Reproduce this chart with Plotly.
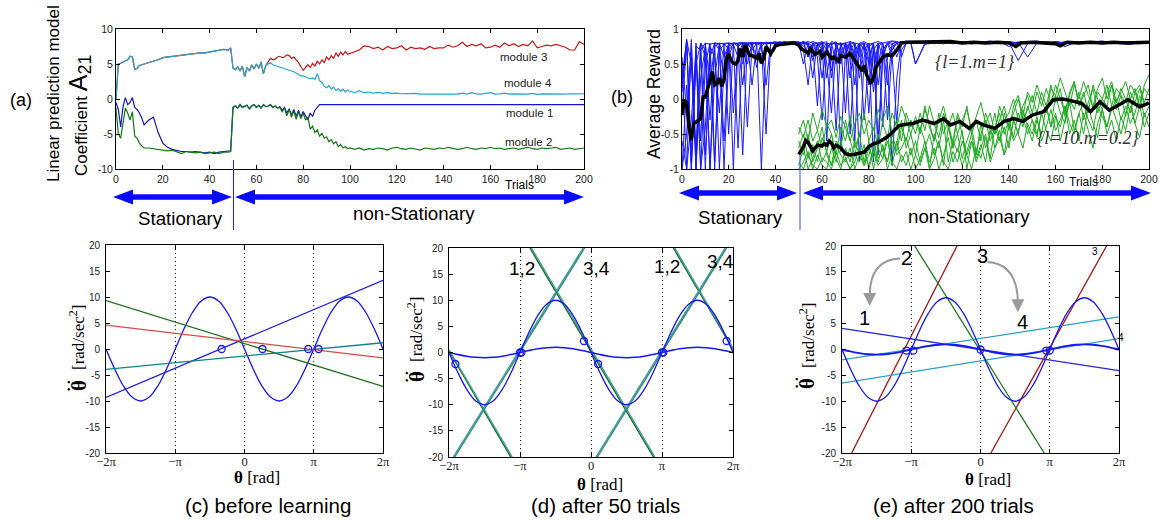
import plotly.graph_objects as go

W, H = 1167, 520
SANS = "Liberation Sans, Arial, sans-serif"
SERIF = "Liberation Serif, Times New Roman, serif"


def px(x):
    return x / W


def py(y):
    return 1 - y / H


# ---------------- panel (a): linear prediction coefficient A21 ----------------
trials_a = list(range(0, 12)) + list(range(12, 48, 2)) + list(range(48, 100)) + list(range(100, 201, 2))

module1 = ([-0.5, -1.5, -4.0, -1.1, 0.2, -0.8, -0.5, 0.2, -1.2, -1.5, -2.0, -2.7]
           + [-3.7, -3.0, -2.6, -4.8, -6.3, -6.9, -7.2, -7.4, -7.5, -7.5, -7.6, -7.5, -7.6, -7.7, -7.6, -7.8, -7.6, -7.5]
           + [-7.5, -7.4, -1.2, -1.0, -1.3, -0.8, -1.2, -1.0, -0.9, -1.4,
              -1.0, -0.8, -1.2, -0.9, -1.3, -0.8, -1.1, -1.0, -0.8, -1.2,
              -1.0, -1.3, -1.1, -1.6, -1.2, -2.0, -1.4, -2.3, -1.5, -2.5,
              -1.6, -2.6, -1.8, -2.4, -3.0, -2.0, -2.5, -1.6, -1.2, -0.8,
              -0.8, -0.78, -0.8, -0.8, -0.79, -0.8, -0.8, -0.78, -0.8, -0.8,
              -0.8, -0.79]
           + [-0.8, -0.78, -0.8, -0.8, -0.79, -0.8, -0.8, -0.78, -0.8, -0.8,
              -0.79, -0.8, -0.8, -0.78, -0.8, -0.8, -0.8, -0.79, -0.8, -0.78,
              -0.8, -0.8, -0.79, -0.8, -0.8, -0.78, -0.8, -0.8, -0.79, -0.8,
              -0.8, -0.78, -0.8, -0.8, -0.8, -0.79, -0.8, -0.8, -0.8, -0.8,
              -0.9, -0.8, -0.8, -0.79, -0.8, -0.8, -0.78, -0.8, -0.8, -0.79,
              -0.8])

module2 = ([-1.3, -5.0, -5.6, -3.5, -1.3, -2.0, -3.0, -1.8, -5.3, -5.6, -6.3, -6.7]
           + [-7.0, -7.0, -7.1, -7.3, -7.3, -7.4, -7.3, -7.5, -7.8, -7.5, -7.6, -7.7, -7.6, -7.8, -7.7, -7.6, -7.8, -7.6]
           + [-7.6, -7.5, -1.2, -1.0, -1.3, -0.8, -1.2, -1.0, -0.9, -1.4,
              -1.0, -0.8, -1.2, -0.9, -1.3, -0.8, -1.1, -1.0, -0.8, -1.2,
              -1.0, -1.3, -1.2, -1.8, -1.3, -2.4, -1.5, -2.6, -1.7, -2.9,
              -1.8, -2.8, -2.0, -3.0, -2.6, -4.3, -3.9, -4.8, -4.4, -5.3,
              -4.9, -5.6, -5.4, -6.1, -5.8, -6.4, -6.1, -6.8, -6.5, -7.0,
              -6.8, -7.1]
           + [-7.0, -7.2, -7.0, -7.3, -7.1, -7.2, -7.0, -7.1, -7.3, -7.0,
              -6.9, -7.1, -7.2, -7.0, -7.1, -7.3, -7.0, -7.1, -7.2, -7.0,
              -7.1, -6.9, -7.0, -7.2, -7.1, -6.9, -7.1, -7.2, -7.0, -7.1,
              -6.9, -7.1, -7.0, -7.2, -7.1, -7.0, -7.2, -7.1, -6.9, -7.1,
              -7.2, -7.0, -7.1, -7.0, -6.9, -7.2, -7.1, -7.0, -7.2, -7.1,
              -7.0])

module3 = ([0.0, 5.0, 5.1, 5.3, 5.4, 5.6, 6.1, 6.0, 4.2, 4.4, 4.8, 4.9]
           + [4.9, 5.2, 5.4, 5.6, 5.9, 6.0, 6.1, 6.2, 6.2, 6.4, 6.4, 6.5, 6.6, 6.6, 6.7, 6.9, 6.9, 7.1]
           + [7.0, 7.3, 4.4, 4.2, 4.6, 4.0, 4.7, 3.2, 4.5, 4.0,
              4.9, 4.3, 5.0, 4.4, 5.3, 3.6, 4.8, 5.3, 5.8, 5.6,
              5.7, 6.0, 6.1, 5.9, 6.0, 6.3, 6.2, 5.8, 6.0, 5.6,
              5.2, 4.6, 4.1, 4.5, 4.9, 4.5, 5.1, 4.7, 5.4, 5.0,
              5.6, 5.2, 6.0, 5.6, 6.2, 5.8, 6.6, 6.1, 6.7, 6.3,
              6.8, 6.4]
           + [6.5, 6.8, 7.0, 7.6, 7.5, 7.2, 7.4, 7.0, 7.5, 7.2,
              7.3, 7.6, 7.0, 7.4, 7.2, 7.3, 7.1, 7.5, 7.2, 7.3,
              7.3, 7.7, 7.4, 7.6, 8.1, 7.5, 7.8, 7.6, 7.9, 7.3,
              7.4, 7.7, 7.4, 8.0, 7.6, 7.9, 7.5, 7.8, 7.6, 8.3,
              7.3, 7.5, 7.7, 7.6, 7.8, 7.6, 7.4, 7.0, 7.0, 8.2,
              7.8])

module4 = ([0.0, 5.0, 5.1, 5.3, 5.4, 5.6, 6.1, 6.0, 4.2, 4.4, 4.8, 4.9]
           + [4.9, 5.2, 5.4, 5.6, 5.9, 6.0, 6.1, 6.2, 6.2, 6.4, 6.4, 6.5, 6.6, 6.6, 6.7, 6.9, 6.9, 7.1]
           + [7.0, 7.3, 4.4, 4.2, 4.6, 4.0, 4.7, 3.2, 4.5, 4.0,
              4.9, 4.3, 5.0, 4.4, 5.3, 3.6, 4.8, 5.0, 5.2, 4.9,
              4.8, 4.7, 4.6, 4.5, 4.4, 4.3, 4.1, 4.0, 3.9, 3.7,
              3.5, 3.3, 3.3, 3.1, 3.0, 2.9, 3.0, 2.8, 3.6, 2.6,
              2.4, 1.8, 1.6, 1.9, 1.4, 1.7, 1.2, 1.5, 1.1, 1.4,
              1.0, 1.3]
           + [1.1, 0.9, 1.2, 0.9, 1.0, 0.85, 0.95, 0.8, 0.9, 0.8,
              0.85, 0.75, 0.8, 0.75, 0.8, 0.7, 0.75, 0.7, 0.7, 0.72,
              0.7, 0.7, 0.72, 0.7, 0.85, 0.7, 0.9, 0.72, 0.7, 0.75,
              0.9, 0.7, 0.72, 0.85, 0.7, 0.72, 0.7, 0.75, 0.7, 0.8,
              0.65, 0.72, 0.7, 0.75, 0.7, 0.72, 0.7, 0.75, 0.7, 0.72,
              0.75])

module_labels = ["module 3", "module 4", "module 1", "module 2"]

# ---------------- panel (b): average reward ----------------
trials_blue = list(range(0, 101, 2)) + list(range(104, 201, 4))
trials_green = list(range(50, 201, 2))

blue_run1 = [-0.2, 0.8, -1.0, 0.75, 0.7, 0.8, 0.78, 0.8, 0.79, 0.8,
             0.8, 0.79, 0.8, 0.81, 0.8, 0.79, 0.8, 0.81, 0.8, 0.8,
             0.81, 0.8, 0.82, 0.81, 0.82, 0.8, 0.75, 0.8, 0.55, 0.78,
             0.8, 0.7, 0.82, 0.8, 0.78, 0.8, 0.82, 0.6, 0.8, 0.82,
             0.78, 0.8, 0.82, 0.8, 0.81, 0.83, 0.82, 0.8, 0.82, 0.81,
             0.82,
             0.8, 0.82, 0.81, 0.79, 0.82, 0.8, 0.81, 0.83, 0.8, 0.82,
             0.79, 0.81, 0.82, 0.8, 0.81, 0.79, 0.82, 0.8, 0.81, 0.83,
             0.8, 0.79, 0.82, 0.81, 0.8]
blue_run2 = [0.5, -1.0, 0.85, -0.9, 0.7, -1.0, 0.75, 0.6, -0.2, 0.8,
             0.7, 0.78, -0.7, 0.8, 0.75, 0.8, 0.45, 0.8, 0.79, 0.8,
             0.82, 0.8, 0.79, 0.81, 0.8, 0.82, 0.7, 0.2, 0.8, 0.6,
             -0.3, 0.75, 0.8, 0.5, 0.78, 0.8, -0.5, 0.7, 0.8, 0.4,
             0.75, -0.9, 0.8, 0.6, 0.8, 0.82, 0.8, 0.81, 0.8, 0.82,
             0.8,
             0.81, 0.8, 0.82, 0.8, 0.79, 0.81, 0.8, 0.82, 0.8, 0.81,
             0.55, 0.79, 0.8, 0.82, 0.81, 0.8, 0.79, 0.81, 0.82, 0.8,
             0.81, 0.8, 0.78, 0.81, 0.8]
blue_run3 = [-1.0, -0.5, 0.6, -1.0, 0.3, 0.75, -1.0, 0.8, 0.7, 0.78,
             -0.5, 0.8, 0.75, 0.8, 0.79, 0.8, 0.81, -1.0, 0.78, 0.8,
             0.81, 0.8, 0.82, 0.8, 0.81, 0.75, 0.8, 0.78, 0.3, 0.8,
             0.82, 0.5, -0.2, 0.75, 0.8, 0.6, 0.82, 0.8, 0.3, 0.8,
             0.2, 0.7, 0.8, -0.4, 0.6, 0.75, 0.8, 0.82, 0.8, 0.81,
             0.5,
             0.8, 0.82, 0.81, 0.8, 0.82, 0.79, 0.8, 0.81, 0.82, 0.8,
             0.81, 0.6, 0.8, 0.79, 0.82, 0.8, 0.81, 0.8, 0.82, 0.79,
             0.8, 0.81, 0.8, 0.82, 0.81]
blue_run4 = [0.3, 0.85, -0.8, 0.8, -1.0, 0.5, 0.8, -0.9, 0.75, 0.3,
             0.8, 0.78, 0.6, 0.8, -0.4, 0.78, 0.8, 0.75, 0.81, 0.8,
             0.79, 0.81, 0.8, 0.82, 0.81, 0.8, 0.82, 0.6, 0.8, 0.79,
             0.3, 0.8, 0.7, -0.45, 0.8, 0.75, 0.8, 0.5, 0.78, 0.8,
             -0.2, 0.75, 0.5, 0.8, -0.3, 0.7, 0.8, 0.81, 0.82, 0.8,
             0.81,
             0.8, 0.81, 0.79, 0.82, 0.8, 0.81, 0.8, 0.79, 0.82, 0.75,
             0.8, 0.81, 0.83, 0.8, 0.79, 0.82, 0.8, 0.81, 0.8, 0.82,
             0.8, 0.79, 0.81, 0.8, 0.82]
blue_run5 = [-0.6, -1.0, -0.3, 0.7, -0.6, 0.8, 0.2, 0.78, -1.0, 0.5,
             0.8, -0.2, 0.78, 0.5, 0.8, 0.7, 0.8, 0.79, -0.5, 0.8,
             0.78, 0.8, 0.81, 0.8, 0.82, 0.8, 0.5, 0.8, 0.75, -0.1,
             0.8, 0.78, 0.4, 0.8, -0.75, 0.7, 0.8, 0.2, 0.75, 0.8,
             0.5, 0.8, -0.6, 0.7, 0.8, 0.6, -0.35, 0.7, 0.8, 0.82,
             0.8,
             0.81, 0.8, 0.82, 0.8, 0.81, 0.79, 0.8, 0.82, 0.8, 0.81,
             0.8, 0.79, 0.82, 0.8, 0.81, 0.75, 0.8, 0.82, 0.8, 0.81,
             0.79, 0.8, 0.82, 0.8, 0.81]
blue_run6 = [0.1, 0.8, -1.0, 0.5, 0.8, -0.8, 0.6, 0.8, 0.79, -0.6,
             0.75, 0.8, 0.79, 0.2, 0.8, 0.81, 0.78, 0.8, 0.8, 0.6,
             0.8, 0.82, 0.8, 0.79, 0.8, 0.81, 0.8, 0.79, 0.82, 0.8,
             0.7, 0.8, 0.78, 0.82, 0.5, 0.8, 0.7, 0.8, -0.9, 0.6,
             0.8, 0.4, 0.8, 0.78, 0.5, -0.95, 0.3, 0.8, 0.81, 0.8,
             0.5,
             0.78, 0.8, 0.81, 0.82, 0.8, 0.79, 0.81, 0.8, 0.82, 0.8,
             0.81, 0.8, 0.8, 0.82, 0.79, 0.8, 0.81, 0.82, 0.8, 0.8,
             0.81, 0.79, 0.8, 0.82, 0.8]
blue_run7 = [0.6, -0.2, 0.8, -1.0, 0.8, 0.7, -0.3, 0.75, 0.8, 0.78,
             0.8, -1.0, 0.8, 0.79, 0.8, 0.2, 0.8, 0.8, 0.79, 0.81,
             0.8, 0.78, 0.8, 0.81, 0.8, 0.79, 0.8, 0.82, 0.8, 0.7,
             0.82, -0.6, 0.78, 0.8, 0.6, 0.8, 0.3, 0.8, 0.78, -0.3,
             0.6, 0.8, 0.2, 0.7, 0.8, 0.78, 0.82, 0.6, 0.8, 0.81,
             0.8,
             0.82, 0.81, 0.8, 0.79, 0.8, 0.82, 0.81, 0.8, 0.8, 0.79,
             0.81, 0.82, 0.8, 0.81, 0.8, 0.79, 0.82, 0.8, 0.81, 0.8,
             0.79, 0.82, 0.81, 0.8, 0.8]
blue_run8 = [-1.0, 0.2, -0.9, 0.6, -1.0, -0.4, 0.75, -1.0, 0.8, 0.6,
             0.78, 0.8, 0.79, -0.8, 0.8, 0.78, 0.6, 0.8, 0.8, 0.79,
             0.8, 0.81, 0.79, 0.8, 0.82, 0.81, 0.8, 0.6, 0.8, 0.75,
             0.8, 0.3, 0.8, 0.78, 0.8, -0.2, 0.8, 0.79, 0.6, 0.8,
             0.75, 0.8, -0.8, 0.6, 0.8, 0.7, 0.8, 0.82, 0.79, 0.8,
             0.81,
             0.8, 0.79, 0.82, 0.8, 0.81, 0.8, 0.8, 0.82, 0.79, 0.8,
             0.81, 0.8, 0.82, 0.8, 0.79, 0.81, 0.8, 0.82, 0.8, 0.79,
             0.8, 0.82, 0.8, 0.81, 0.8]
blue_run9 = [0.2, 0.85, 0.5, -0.7, 0.8, 0.6, -1.0, 0.3, 0.8, -1.0,
             0.6, 0.8, 0.78, 0.8, 0.5, 0.8, 0.79, 0.8, 0.2, 0.8,
             0.79, 0.8, 0.78, 0.81, 0.8, 0.79, 0.82, 0.8, 0.6, 0.78,
             0.8, 0.82, 0.3, 0.8, 0.78, 0.8, 0.6, -0.6, 0.8, 0.7,
             0.8, 0.1, 0.75, 0.8, 0.2, 0.8, 0.6, 0.8, 0.81, 0.8,
             0.82,
             0.81, 0.8, 0.79, 0.8, 0.82, 0.8, 0.81, 0.79, 0.8, 0.82,
             0.8, 0.81, 0.79, 0.8, 0.82, 0.8, 0.81, 0.8, 0.79, 0.82,
             0.8, 0.81, 0.8, 0.79, 0.81]

green_run1 = [-0.6, -0.8, -0.5, -0.9, -0.7, -0.4, -0.8, -0.95, -0.6, -0.7,
              -0.3, -0.6, -0.8, -0.5, -0.2, -0.6, -0.4, -0.7, -0.3, -0.1,
              -0.5, -0.3, -0.6, -0.2, -0.4,
              -0.3, -0.5, -0.1, -0.4, -0.6, -0.2, -0.5, -0.3, -0.7, -0.2,
              -0.4, -0.1, -0.5, -0.3, -0.6, -0.2, -0.4, -0.5, -0.1, -0.3,
              -0.2, 0.0, -0.3, -0.1, 0.05,
              -0.2, 0.1, -0.1, 0.15, -0.05, 0.2, 0.0, -0.2, 0.1, 0.25,
              -0.1, 0.05, 0.2, -0.15, 0.1, 0.0, 0.2, -0.1, 0.15, 0.05,
              -0.05, 0.2, 0.1, -0.1, 0.15, 0.05]
green_run2 = [-0.95, -0.7, -1.0, -0.85, -0.6, -0.9, -0.75, -0.5, -0.85, -1.0,
              -0.7, -0.9, -0.6, -0.8, -0.95, -0.7, -0.85, -0.5, -0.75, -0.9,
              -0.6, -0.8, -0.7, -0.55, -0.8,
              -0.6, -0.9, -0.7, -0.5, -0.8, -0.6, -0.95, -0.4, -0.7, -0.5,
              -0.85, -0.6, -0.4, -0.75, -0.5, -0.3, -0.6, -0.4, -0.2, -0.5,
              -0.3, -0.55, -0.2, -0.4, -0.1,
              -0.3, -0.5, -0.2, -0.1, -0.4, 0.05, -0.2, -0.35, 0.0, -0.15,
              0.1, -0.3, -0.05, 0.15, -0.2, 0.0, -0.1, 0.2, -0.15, 0.05,
              -0.25, 0.1, -0.05, 0.15, -0.1, 0.0]
green_run3 = [-0.4, -0.55, -0.3, -0.6, -0.45, -0.7, -0.35, -0.5, -0.8, -0.4,
              -0.6, -0.25, -0.7, -0.5, -0.9, -0.6, -1.0, -0.7, -0.85, -0.5,
              -0.95, -0.6, -0.3, -0.7, -0.5,
              -0.8, -0.4, -0.6, -1.0, -0.5, -0.7, -0.3, -0.9, -0.6, -0.75,
              -0.45, -1.0, -0.6, -0.8, -0.35, -0.7, -0.5, -0.2, -0.6, -0.4,
              -0.7, -0.3, -0.5, -0.15, -0.4,
              -0.6, -0.3, -0.5, -0.1, -0.4, -0.2, -0.6, -0.3, -0.05, -0.45,
              -0.2, -0.5, -0.1, -0.35, -0.55, -0.15, -0.4, -0.1, -0.3, -0.5,
              -0.2, 0.0, -0.35, -0.1, -0.4, -0.2]
green_run4 = [-0.9, -1.0, -0.8, -0.95, -1.0, -0.85, -0.9, -1.0, -0.75, -0.95,
              -0.85, -1.0, -0.9, -0.7, -0.95, -0.8, -0.6, -0.85, -0.7, -0.9,
              -0.5, -0.75, -0.4, -0.6, -0.3,
              -0.5, -0.2, -0.45, -0.1, -0.35, -0.55, -0.2, -0.4, -0.6, -0.25,
              -0.5, -0.8, -0.6, -0.9, -0.7, -0.5, -0.85, -0.4, -0.6, -0.2,
              -0.45, -0.1, 0.05, -0.25, 0.1,
              -0.05, 0.2, 0.0, -0.2, 0.15, 0.05, 0.3, 0.1, -0.1, 0.2,
              0.0, 0.25, 0.05, -0.1, 0.15, 0.3, 0.0, 0.2, -0.05, 0.1,
              0.25, 0.0, 0.15, -0.1, 0.2, 0.35]
green_run5 = [-0.7, -0.5, -0.85, -0.65, -0.9, -0.55, -0.75, -0.95, -0.65, -0.8,
              -0.9, -0.7, -1.0, -0.8, -0.75, -0.95, -0.7, -0.9, -0.65, -1.0,
              -0.8, -0.6, -0.9, -0.75, -1.0,
              -0.8, -0.95, -0.7, -1.0, -0.85, -0.6, -0.9, -1.0, -0.75, -0.9,
              -0.6, -0.8, -1.0, -0.7, -0.85, -0.55, -0.9, -0.7, -0.45, -0.8,
              -0.6, -0.3, -0.5, -0.7, -0.35,
              -0.5, -0.25, -0.6, -0.4, -0.15, -0.45, -0.3, -0.1, -0.35, -0.5,
              -0.2, -0.05, -0.3, -0.45, -0.1, -0.25, -0.4, -0.15, 0.0, -0.3,
              -0.1, -0.35, -0.2, 0.05, -0.25, -0.1]
green_run6 = [-0.5, -0.3, -0.6, -0.2, -0.45, -0.15, -0.4, -0.3, -0.55, -0.25,
              -0.4, -0.6, -0.35, -0.2, -0.5, -0.3, -0.45, -0.15, -0.35, -0.55,
              -0.2, -0.4, -0.1, -0.3, -0.5,
              -0.25, -0.45, -0.15, -0.35, -0.6, -0.3, -0.1, -0.4, -0.2, -0.5,
              -0.3, -0.15, -0.45, -0.25, -0.05, -0.35, -0.2, -0.5, -0.3, -0.1,
              -0.4, -0.2, 0.0, -0.3, -0.15,
              0.05, -0.2, 0.1, -0.1, 0.2, -0.05, 0.15, -0.25, 0.05, 0.25,
              -0.1, 0.1, -0.2, 0.2, 0.0, -0.15, 0.1, 0.25, -0.05, 0.15,
              0.0, -0.2, 0.1, 0.2, -0.05, 0.15]
green_run7 = [-1.0, -0.9, -0.75, -1.0, -0.8, -0.95, -1.0, -0.7, -0.9, -0.6,
              -0.85, -1.0, -0.8, -0.9, -0.65, -1.0, -0.75, -0.95, -0.85, -0.6,
              -0.9, -1.0, -0.8, -0.95, -0.7,
              -1.0, -0.85, -0.6, -0.9, -0.7, -1.0, -0.8, -0.55, -0.9, -0.7,
              -0.95, -0.75, -0.5, -0.85, -0.65, -0.9, -0.4, -0.7, -0.55, -0.8,
              -0.35, -0.6, -0.45, -0.25, -0.5,
              -0.3, -0.55, -0.2, -0.45, -0.6, -0.25, -0.4, -0.1, -0.5, -0.3,
              -0.6, -0.2, -0.45, -0.7, -0.35, -0.15, -0.5, -0.3, -0.6, -0.25,
              -0.45, -0.1, -0.35, -0.55, -0.2, -0.4]

mean_blue_t = [0, 1, 2, 3, 4, 5, 6, 8, 9, 10,
               11, 12, 13, 14, 15, 16, 17, 18, 19, 20,
               21, 22, 23, 24, 25, 26, 27, 28, 29, 30,
               31, 32, 33, 34, 35, 36, 37, 38, 39, 40,
               42, 45, 48, 50, 51, 52, 54, 55, 57, 59,
               60, 62, 64, 65, 67, 68, 70, 72, 74, 75,
               77, 78, 79, 80, 81, 82, 83, 84, 86, 88,
               90, 92, 94, 96, 100, 105, 110, 115, 120, 125,
               130, 135, 140, 143, 145, 150, 155, 160, 162, 165,
               170, 175, 180, 185, 190, 195, 200]
mean_blue_v = [-0.23, -0.01, -0.06, -0.4, -0.59, -0.35, -0.33, -0.28, 0.03, 0.03,
               0.15, 0.27, 0.39, 0.2, 0.22, 0.3, 0.18, 0.28, 0.56, 0.65,
               0.55, 0.51, 0.5, 0.55, 0.72, 0.6, 0.77, 0.7, 0.62, 0.62,
               0.6, 0.58, 0.65, 0.51, 0.58, 0.75, 0.7, 0.65, 0.7, 0.76,
               0.78, 0.79, 0.8, 0.77, 0.72, 0.7, 0.66, 0.72, 0.64, 0.68,
               0.6, 0.67, 0.58, 0.6, 0.54, 0.62, 0.6, 0.65, 0.55, 0.5,
               0.4, 0.48, 0.35, 0.28, 0.22, 0.3, 0.45, 0.5, 0.6, 0.63,
               0.62, 0.7, 0.8, 0.81, 0.81, 0.82, 0.81, 0.82, 0.8, 0.81,
               0.8, 0.81, 0.8, 0.75, 0.8, 0.81, 0.8, 0.79, 0.76, 0.81,
               0.8, 0.81, 0.8, 0.81, 0.8, 0.8, 0.81]
mean_green_t = [50, 51, 52, 53, 54, 55, 56, 57, 58, 60,
                61, 62, 63, 64, 65, 66, 68, 70, 72, 74,
                76, 78, 80, 82, 84, 86, 88, 90, 93, 96,
                99, 103, 108, 112, 115, 119, 123, 126, 129, 134,
                138, 142, 146, 150, 155, 159, 163, 166, 171, 175,
                179, 183, 188, 191, 196, 200]
mean_green_v = [-0.79, -0.73, -0.68, -0.59, -0.62, -0.68, -0.74, -0.7, -0.66, -0.67,
                -0.64, -0.66, -0.6, -0.63, -0.7, -0.66, -0.7, -0.78, -0.8, -0.79,
                -0.77, -0.76, -0.68, -0.64, -0.62, -0.58, -0.54, -0.48, -0.38, -0.36,
                -0.35, -0.3, -0.35, -0.28, -0.37, -0.32, -0.42, -0.32, -0.37, -0.42,
                -0.32, -0.28, -0.32, -0.23, -0.18, -0.01, 0.0, -0.02, -0.06, -0.18,
                -0.04, -0.16, -0.06, -0.01, -0.11, -0.06]

# ---------------- panels (c)-(e): phase plots (x in units of pi) ----------------
theta_grid = [k / 8 for k in range(-16, 17)]
big_wave = [0, -3.83, -7.07, -9.24, -10, -9.24, -7.07, -3.83, 0, 3.83, 7.07, 9.24, 10, 9.24, 7.07, 3.83,
            0, -3.83, -7.07, -9.24, -10, -9.24, -7.07, -3.83, 0, 3.83, 7.07, 9.24, 10, 9.24, 7.07, 3.83, 0]
small_wave = [0, -0.38, -0.71, -0.92, -1, -0.92, -0.71, -0.38, 0, 0.38, 0.71, 0.92, 1, 0.92, 0.71, 0.38,
              0, -0.38, -0.71, -0.92, -1, -0.92, -0.71, -0.38, 0, 0.38, 0.71, 0.92, 1, 0.92, 0.71, 0.38, 0]

c_x0 = [-2, -2, -2, -2]
c_y0 = [-9.3, 9.3, 4.6, -3.9]
c_x1 = [2, 2, 2, 2]
c_y1 = [13.2, -7.2, -1.7, 1.2]
c_roots_x = [-0.33, 0.26, 0.92, 1.07]
c_roots_y = [0, 0, 0, 0]

d_x0 = [-2.0, -2.0, -0.86, -0.84, 1.16, 1.18, -1.94, -1.92, 0.07, 0.09]
d_y0 = [0.3, 0.5, 20, 20, 20, 20, -20, -20, -20, -20]
d_x1 = [-1.13, -1.11, 0.88, 0.90, 2.0, 2.0, -0.11, -0.09, 1.89, 1.91]
d_y1 = [-20, -20, -20, -20, 0.6, 0.8, 20, 20, 20, 20]
d_roots_x = [-1.91, -1.0, -0.98, -0.1, 0.1, 1.0, 1.02, 1.91]
d_roots_y = [-2.2, 0, 0, 2.2, -2.2, 0, 0, 2.2]

e_x0 = [-1.86, 0.15, -0.95, -2, -2, -2]
e_y0 = [-20, -20, 20, 4.1, -2.0, -6.5]
e_x1 = [-0.34, 1.82, 0.92, 2, 2, 2]
e_y1 = [20, 20, -20, -4.1, 6.3, 2.1]
e_roots_x = [-1.07, -0.97, 0.0, 0.95, 1.0]
e_roots_y = [-0.2, -0.2, 0.0, -0.2, -0.2]

pi_ticks = [-2, -1, 0, 1, 2]
pi_labels = ["\u22122\u03c0", "\u2212\u03c0", "0", "\u03c0", "2\u03c0"]

# ---------------- styles ----------------
COL_M = {"m1": "#1414c8", "m2": "#147814", "m3": "#c81818", "m4": "#22a8cc"}
c_colors = ["#2020e6", "#1d6e1d", "#d84a4a", "#12828c"]
d_colors = ["#176a17", "#3a9c9c", "#176a17", "#3a9c9c", "#176a17", "#3a9c9c",
            "#3a9c9c", "#2f8a7a", "#3a9c9c", "#2f8a7a"]
e_colors = ["#a81414", "#a81414", "#1f7a1f", "#2626e0", "#2aa0c8", "#2aa0c8"]
BLUE = "#1818f0"

fig = go.Figure()


def line(xs, ys, ax, color, width, shape="linear"):
    fig.add_trace(go.Scatter(x=xs, y=ys, mode="lines",
                             line=dict(color=color, width=width, shape=shape),
                             xaxis=ax[0], yaxis=ax[1], showlegend=False, hoverinfo="skip"))


def circles(xs, ys, ax):
    fig.add_trace(go.Scatter(x=xs, y=ys, mode="markers",
                             marker=dict(symbol="circle-open", size=7, color=BLUE, line=dict(width=1.3)),
                             xaxis=ax[0], yaxis=ax[1], showlegend=False, hoverinfo="skip"))


A, B, C, D, E = ("x", "y"), ("x2", "y2"), ("x3", "y3"), ("x4", "y4"), ("x5", "y5")

# panel (a)
line(trials_a, module3, A, COL_M["m3"], 1.2)
line(trials_a, module4, A, COL_M["m4"], 1.2)
line(trials_a, module1, A, COL_M["m1"], 1.2)
line(trials_a, module2, A, COL_M["m2"], 1.2)

# panel (b)
for run in [blue_run1, blue_run2, blue_run3, blue_run4, blue_run5, blue_run6, blue_run7,
            blue_run8, blue_run9]:
    n = min(len(run), len(trials_blue))
    line(trials_blue[:n], run[:n], B, "#1a1aff", 1)
for run in [green_run1, green_run2, green_run3, green_run4, green_run5, green_run6, green_run7]:
    n = min(len(run), len(trials_green))
    line(trials_green[:n], run[:n], B, "#22aa22", 1)
line(mean_blue_t, mean_blue_v, B, "black", 3.5)
line(mean_green_t, mean_green_v, B, "black", 3.5)

# panel (c)
line(theta_grid, big_wave, C, BLUE, 1.3, "spline")
for i in range(len(c_x0)):
    line([c_x0[i], c_x1[i]], [c_y0[i], c_y1[i]], C, c_colors[i], 1.3)
circles(c_roots_x, c_roots_y, C)

# panel (d)
for i in range(len(d_x0)):
    line([d_x0[i], d_x1[i]], [d_y0[i], d_y1[i]], D, d_colors[i], 1.4)
line(theta_grid, big_wave, D, BLUE, 1.3, "spline")
line(theta_grid, small_wave, D, BLUE, 1.6, "spline")
circles(d_roots_x, d_roots_y, D)

# panel (e)
for i in range(len(e_x0)):
    line([e_x0[i], e_x1[i]], [e_y0[i], e_y1[i]], E, e_colors[i], 1.3)
line(theta_grid, big_wave, E, BLUE, 1.3, "spline")
line(theta_grid, small_wave, E, BLUE, 1.8, "spline")
circles(e_roots_x, e_roots_y, E)


def axis(**kw):
    d = dict(showline=True, linecolor="black", linewidth=1, mirror="ticks", ticks="inside",
             ticklen=4, tickcolor="black", showgrid=False, zeroline=False, automargin=False,
             tickfont=dict(family=SANS, size=10.5, color="#222"))
    d.update(kw)
    return d


def phase_x(x0, x1, anchor):
    return axis(domain=[px(x0), px(x1)], range=[-2, 2], anchor=anchor, tickvals=pi_ticks,
                ticktext=pi_labels, showgrid=True, griddash="1px,3px", gridcolor="black", gridwidth=1,
                ticklabelstandoff=-3, tickfont=dict(family=SERIF, size=12.5, color="#222"))


def phase_y(y_bot, y_top, anchor):
    vals = [-20, -15, -10, -5, 0, 5, 10, 15, 20]
    return axis(domain=[py(y_bot), py(y_top)], range=[-20, 20], anchor=anchor, tickvals=vals,
                ticktext=[str(v) for v in vals], ticklabelstandoff=3,
                tickfont=dict(family=SANS, size=10, color="#222"))


fig.update_layout(
    width=W, height=H, autosize=False,
    margin=dict(l=0, r=0, t=0, b=0, pad=0),
    paper_bgcolor="white", plot_bgcolor="white",
    xaxis=axis(domain=[px(116), px(584)], range=[0, 200], anchor="y", tickvals=list(range(0, 201, 20))),
    yaxis=axis(domain=[py(169), py(29)], range=[-10, 10], anchor="x", tickvals=[-10, -5, 0, 5, 10],
               ticktext=["-10", "-5", "0", "5", "10"]),
    xaxis2=axis(domain=[px(682), px(1149)], range=[0, 200], anchor="y2", tickvals=list(range(0, 201, 20))),
    yaxis2=axis(domain=[py(169), py(29)], range=[-1, 1], anchor="x2", tickvals=[-1, -0.5, 0, 0.5, 1],
                ticktext=["-1", "-0.5", "0", "0.5", "1"]),
    xaxis3=phase_x(106, 383, "y3"),
    yaxis3=phase_y(453, 245, "x3"),
    xaxis4=phase_x(449, 733, "y4"),
    yaxis4=phase_y(457, 248, "x4"),
    xaxis5=phase_x(842, 1119, "y5"),
    yaxis5=phase_y(453, 246, "x5"),
)

ann = []


def text(t, x, y, size=17, family=SANS, angle=0, color="black"):
    ann.append(dict(text=t, x=px(x), y=py(y), xref="paper", yref="paper", showarrow=False,
                    xanchor="center", yanchor="middle", textangle=angle,
                    font=dict(family=family, size=size, color=color)))


text("(a)", 21, 100, 18)
text("Linear prediction model", 53, 94, 17, angle=-90)
text("Coefficient <span style='font-size:25px'>A</span><sub><span style='font-size:18px'>21</span></sub>",
     80, 116, 17, angle=-90)
text("(b)", 622, 97, 18)
text("Average Reward", 654, 94, 17.5, angle=-90)
text("Trials", 519, 185, 12)
text("Trials", 1083, 182, 12)
for lab, x, y in zip(module_labels, [523, 528, 529, 528], [57, 83, 113, 142]):
    text(lab, x, y, 11.5, color="#222")
text("<i>{l=1.m=1}</i>", 975, 62, 18, SERIF, color="#333")
text("<i>{l=10.m=0.2}</i>", 1088, 138, 18, SERIF, color="#333")
text("Stationary", 180, 218, 18.7)
text("non-Stationary", 414, 213, 18.7)
text("Stationary", 740, 217, 18.7)
text("non-Stationary", 969, 216, 18.7)

# y titles of the phase plots: bracket text, theta, and the two dots of the double derivative
for bx, by, tx, ty in [(77, 338, 79, 386), (415, 330, 417, 377), (807, 335, 807, 383)]:
    text("[rad/sec<sup>2</sup>]", bx, by, 17, SERIF, angle=-90)
    text("<b>\u03b8</b>", tx, ty, 21, SERIF, angle=-90)
    text("\u00b7\u00b7", tx - 11, ty, 22, SERIF, angle=-90)

xtitle = "<b>\u03b8</b> [rad]"
text(xtitle, 257, 477, 17, SERIF)
text(xtitle, 600, 484, 17, SERIF)
text(xtitle, 988, 479, 17, SERIF)
text("(c) before learning", 268, 505, 20.5)
text("(d) after 50 trials", 605, 505, 20.5)
text("(e) after 200 trials", 953, 505, 20.5)

for lab, x, y in [("1,2", 522, 268), ("3,4", 597, 268), ("1,2", 667, 266), ("3,4", 720, 261)]:
    text(lab, x, y, 19)
for lab, x, y in [("2", 907, 258), ("3", 982, 256), ("1", 864, 318), ("4", 1022, 322)]:
    text(lab, x, y, 20)
text("3", 1095, 251, 10)
text("4", 1121, 337, 10)

# gray curved arrows in (e)
GRAY = "#9a9a9a"
shapes = [
    dict(type="path", xref="x5", yref="y5", path="M -1.16,17.6 Q -1.60,17.4 -1.60,10.4",
         line=dict(color=GRAY, width=2)),
    dict(type="path", xref="x5", yref="y5", path="M 0.10,16.9 Q 0.54,16.6 0.54,8.8",
         line=dict(color=GRAY, width=2)),
]
ann.append(dict(x=-1.60, y=8.4, ax=-1.60, ay=10.8, xref="x5", yref="y5", axref="x5", ayref="y5",
                showarrow=True, arrowhead=2, arrowsize=1.3, arrowwidth=2, arrowcolor=GRAY, text=""))
ann.append(dict(x=0.54, y=7.2, ax=0.54, ay=9.2, xref="x5", yref="y5", axref="x5", ayref="y5",
                showarrow=True, arrowhead=2, arrowsize=1.3, arrowwidth=2, arrowcolor=GRAY, text=""))


def double_arrow(x0, x1, yc, head_len=20, head_half=7.5, shaft_half=2.8):
    pts = [(x0, yc), (x0 + head_len, yc - head_half), (x0 + head_len, yc - shaft_half),
           (x1 - head_len, yc - shaft_half), (x1 - head_len, yc - head_half), (x1, yc),
           (x1 - head_len, yc + head_half), (x1 - head_len, yc + shaft_half),
           (x0 + head_len, yc + shaft_half), (x0 + head_len, yc + head_half)]
    path = "M " + " L ".join(f"{px(a):.5f},{py(b):.5f}" for a, b in pts) + " Z"
    return dict(type="path", xref="paper", yref="paper", path=path, fillcolor="#0a0aff",
                line=dict(width=0))


shapes += [
    double_arrow(113, 232, 197),
    double_arrow(235, 584, 197),
    double_arrow(679, 797, 193),
    double_arrow(803, 1151, 193),
    dict(type="line", xref="paper", yref="paper", x0=px(233.5), x1=px(233.5), y0=py(160), y1=py(230),
         line=dict(color="#1a1aff", width=1)),
    dict(type="line", xref="paper", yref="paper", x0=px(800), x1=px(800), y0=py(155), y1=py(230),
         line=dict(color="#4a4aff", width=1)),
]

fig.update_layout(annotations=ann, shapes=shapes)
fig.write_html("out.html", config={"displayModeBar": False},
               post_script="document.body.style.margin='0px';document.body.style.overflow='hidden';")
